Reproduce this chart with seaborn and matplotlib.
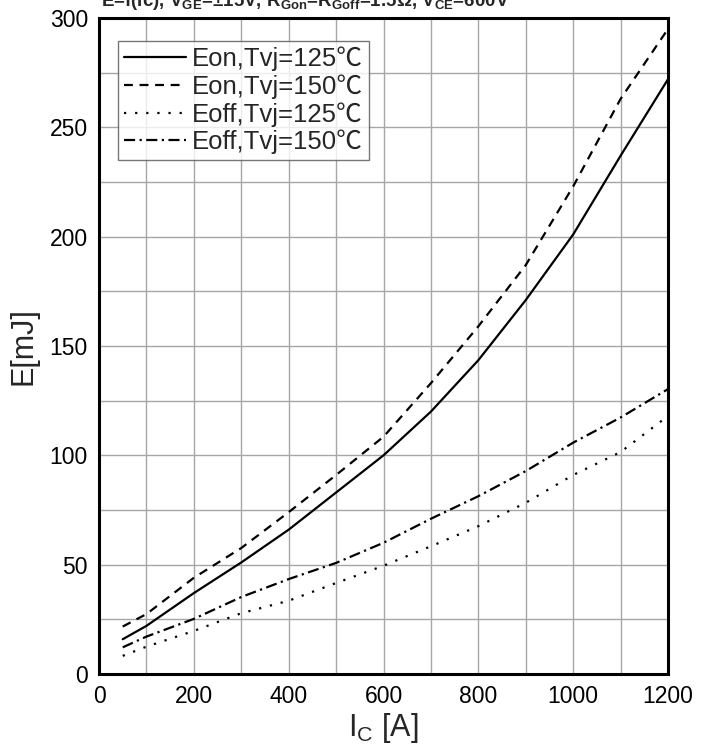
import matplotlib
matplotlib.use("Agg")
import matplotlib.pyplot as plt
import seaborn as sns
import pandas as pd

# ---- data ----
ic = [50, 100, 200, 300, 400, 500, 600, 700, 800, 900, 1000, 1100, 1200]
eon_125 = [15.9, 22, 37, 51, 66, 83, 100, 120, 143.5, 171, 201, 237, 272]
eon_150 = [21.7, 27.4, 44, 57.6, 74, 91, 108.5, 133, 159, 187, 223, 263, 295]
eoff_125 = [8.3, 12.5, 19.7, 27.8, 33.5, 41.6, 49.5, 58.4, 67.6, 78.3, 91, 101.5, 118]
eoff_150 = [12.2, 17.1, 25.2, 35.2, 43.4, 50.8, 60, 71, 81.3, 92.8, 105.8, 117.3, 130.3]
labels = ["Eon,Tvj=125℃", "Eon,Tvj=150℃", "Eoff,Tvj=125℃", "Eoff,Tvj=150℃"]
x_ticks = [0, 200, 400, 600, 800, 1000, 1200]
y_ticks = [0, 50, 100, 150, 200, 250, 300]

sns.set_theme(style="white")
plt.rcParams['font.family'] = ['Liberation Sans', 'Noto Sans CJK SC', 'DejaVu Sans']
plt.rcParams['mathtext.fontset'] = 'custom'
plt.rcParams['mathtext.rm'] = 'Liberation Sans'
plt.rcParams['mathtext.it'] = 'Liberation Sans'
plt.rcParams['mathtext.bf'] = 'Liberation Sans:bold'

fig = plt.figure(figsize=(7.01, 7.48), dpi=100)
ax = fig.add_axes([99/701, 74/748, 569/701, 656/748])

series = [eon_125, eon_150, eoff_125, eoff_150]
styles = [None, (4, 3), (1, 4), (5, 2, 1, 2)]
for vals, lab, dash in zip(series, labels, styles):
    df = pd.DataFrame({"Ic": ic, "E": vals})
    sns.lineplot(data=df, x="Ic", y="E", ax=ax, color="black", lw=1.6,
                 label=lab, estimator=None)
    if dash is not None:
        ax.lines[-1].set_dashes(dash)

ax.set_xlim(0, 1200)
ax.set_ylim(0, 300)
ax.set_xticks(x_ticks)
ax.set_yticks(y_ticks)
ax.set_xticks(range(0, 1201, 100), minor=True)
ax.set_yticks(range(0, 301, 25), minor=True)
ax.grid(which="both", color="#a6a6a6", lw=1.0)
ax.set_axisbelow(True)
for s in ax.spines.values():
    s.set_color("black")
    s.set_linewidth(2.2)
ax.tick_params(which="both", length=0, labelsize=16.5, colors="black", pad=8)

ax.set_xlabel("I$_\\mathregular{C}$ [A]", fontsize=22, labelpad=2)
ax.set_ylabel("E[mJ]", fontsize=22, labelpad=8)

leg = ax.legend(loc="upper left", bbox_to_anchor=(0.034, 0.965), fontsize=18.5,
                frameon=True, fancybox=False, edgecolor="#555555",
                handlelength=2.4, handletextpad=0.25, borderpad=0.22,
                labelspacing=0.12, borderaxespad=0)
leg.get_frame().set_linewidth(1.0)
for h in leg.get_lines():
    h.set_linewidth(1.6)

fig.text(101/701, 1 - 6/748,
         r"E=f(Ic), V$_\mathbf{GE}$=±15V, R$_\mathbf{Gon}$=R$_\mathbf{Goff}$=1.5Ω, V$_\mathbf{CE}$=600V",
         fontsize=13.5, fontweight="bold", va="baseline", ha="left")

fig.savefig("out.png", dpi=100)
